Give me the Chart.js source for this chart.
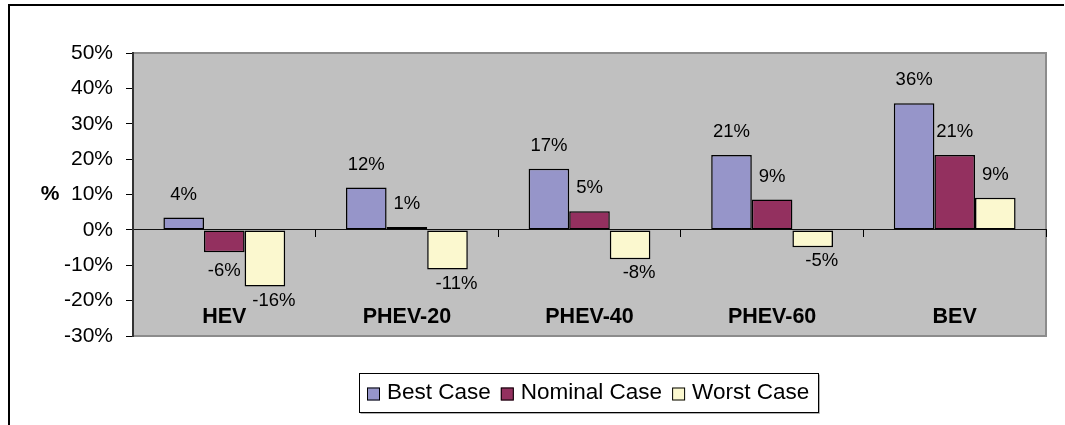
<!DOCTYPE html>
<html>
<head>
<meta charset="utf-8">
<script src="https://cdn.jsdelivr.net/npm/chart.js@4/dist/chart.umd.min.js"></script>
<style>
  html, body { margin: 0; padding: 0; background: #fff; overflow: hidden; }
  #wrap { width: 1065px; height: 425px; overflow: hidden; }
  canvas { display: block; }
</style>
</head>
<body>
<div id="wrap"><canvas id="chart" width="1065" height="425"></canvas></div>
<script>
// Chart data
const categories = ['HEV', 'PHEV-20', 'PHEV-40', 'PHEV-60', 'BEV'];
const bestCase = [3.5, 12, 17.3, 21.2, 35.8];
const nominalCase = [-6.3, 0.8, 5.3, 8.6, 21.2];
const worstCase = [-16, -11.2, -8.3, -4.9, 9.1];
const seriesNames = ['Best Case', 'Nominal Case', 'Worst Case'];
const yMin = -30, yMax = 50, yStep = 10;

const FONT = '"Liberation Sans", Arial, sans-serif';

// Frame, plot background and the "%" axis label
const framePlugin = {
    id: 'frame',
    beforeDraw(chart) {
        const ctx = chart.ctx;
        const a = chart.chartArea;
        ctx.save();
        ctx.fillStyle = '#fff';
        ctx.fillRect(0, 0, chart.width, chart.height);
        ctx.fillStyle = '#000';
        ctx.fillRect(8, 4, 2, chart.height - 4);
        ctx.fillRect(8, 4, chart.width - 9, 2);
        ctx.fillStyle = '#c0c0c0';
        ctx.fillRect(a.left, a.top, a.right - a.left, a.bottom - a.top);
        ctx.strokeStyle = '#8c8c8c';
        ctx.lineWidth = 2;
        ctx.strokeRect(a.left, a.top, a.right - a.left, a.bottom - a.top);
        ctx.fillStyle = '#000';
        ctx.font = 'bold 21px ' + FONT;
        ctx.textAlign = 'center';
        ctx.textBaseline = 'middle';
        ctx.fillText('%', 50, (a.top + a.bottom) / 2);
        ctx.restore();
    }
};

// Value labels above / below each bar
const valueLabels = {
    id: 'valueLabels',
    afterDatasetsDraw(chart) {
        const ctx = chart.ctx;
        ctx.save();
        ctx.font = '18.5px ' + FONT;
        ctx.fillStyle = '#000';
        ctx.textAlign = 'center';
        ctx.textBaseline = 'middle';
        chart.data.datasets.forEach((ds, i) => {
            const meta = chart.getDatasetMeta(i);
            meta.data.forEach((bar, j) => {
                const v = ds.data[j];
                let x = bar.x, y;
                if (v >= 0) {
                    y = bar.y - 23;
                } else if (i === 2) {
                    x += 9;
                    y = bar.y + 14;
                } else {
                    y = bar.y + 19;
                }
                ctx.fillText(Math.round(v) + '%', x, y);
            });
        });
        ctx.restore();
    }
};

// Boxed legend under the plot
const boxLegend = {
    id: 'boxLegend',
    afterDraw(chart) {
        const ctx = chart.ctx;
        ctx.save();
        ctx.font = '22.5px ' + FONT;
        const sq = 13, gapText = 7, gapItem = 10;
        const items = chart.data.datasets.map(ds => ({
            label: ds.label, color: ds.backgroundColor, w: ctx.measureText(ds.label).width
        }));
        let content = 0;
        items.forEach((it, k) => {
            content += sq + gapText + it.w + (k < items.length - 1 ? gapItem : 0);
        });
        const boxW = Math.round(content + 17);
        const boxL = 359.5;
        const boxT = 373.5, boxH = 39;
        ctx.fillStyle = '#fff';
        ctx.fillRect(boxL, boxT, boxW, boxH);
        ctx.strokeStyle = '#000';
        ctx.lineWidth = 1;
        ctx.strokeRect(boxL, boxT, boxW, boxH);
        ctx.strokeStyle = '#b0b0b0';
        ctx.beginPath();
        ctx.moveTo(boxL + 1, boxT + boxH + 1);
        ctx.lineTo(boxL + boxW + 1, boxT + boxH + 1);
        ctx.lineTo(boxL + boxW + 1, boxT + 1);
        ctx.stroke();
        let x = boxL + 7.5;
        const cy = boxT + boxH / 2;
        ctx.textBaseline = 'middle';
        ctx.textAlign = 'left';
        items.forEach(it => {
            ctx.fillStyle = it.color;
            ctx.fillRect(x, cy - sq / 2 + 1, sq, sq);
            ctx.strokeStyle = '#000';
            ctx.strokeRect(x + 0.5, cy - sq / 2 + 1.5, sq - 1, sq - 1);
            x += sq + gapText;
            ctx.fillStyle = '#000';
            ctx.fillText(it.label, x, cy);
            x += it.w + gapItem;
        });
        ctx.restore();
    }
};

const barStyle = {
    borderColor: '#000',
    borderWidth: 1.5,
    borderSkipped: false,
    categoryPercentage: 0.667,
    barPercentage: 1.0
};

new Chart(document.getElementById('chart'), {
    type: 'bar',
    data: {
        labels: categories,
        datasets: [
            Object.assign({ label: seriesNames[0], data: bestCase, backgroundColor: '#9695c9' }, barStyle),
            Object.assign({ label: seriesNames[1], data: nominalCase, backgroundColor: '#93305f' }, barStyle),
            Object.assign({ label: seriesNames[2], data: worstCase, backgroundColor: '#fbf8cf' }, barStyle)
        ]
    },
    options: {
        responsive: false,
        animation: false,
        layout: { padding: { left: 0, top: 53, right: 19, bottom: 89 } },
        plugins: {
            legend: { display: false },
            tooltip: { enabled: false }
        },
        scales: {
            x: {
                position: { y: 0 },
                afterFit(scale) { scale.height = 0; },
                grid: { drawOnChartArea: false, offset: true, tickLength: 7, color: '#000', lineWidth: 1 },
                border: { color: '#111', width: 1 },
                ticks: {
                    padding: 67,
                    maxRotation: 0,
                    color: '#000',
                    font: { family: FONT, size: 21.5, weight: 'bold' }
                }
            },
            y: {
                min: yMin,
                max: yMax,
                afterFit(scale) { scale.width = 133; },
                grid: { drawOnChartArea: false, tickLength: 7, color: '#000', lineWidth: 1 },
                border: { color: '#333', width: 2 },
                ticks: {
                    stepSize: yStep,
                    padding: 13,
                    color: '#000',
                    font: { family: FONT, size: 21 },
                    callback: v => v + '%'
                }
            }
        }
    },
    plugins: [framePlugin, valueLabels, boxLegend]
});
</script>
</body>
</html>
